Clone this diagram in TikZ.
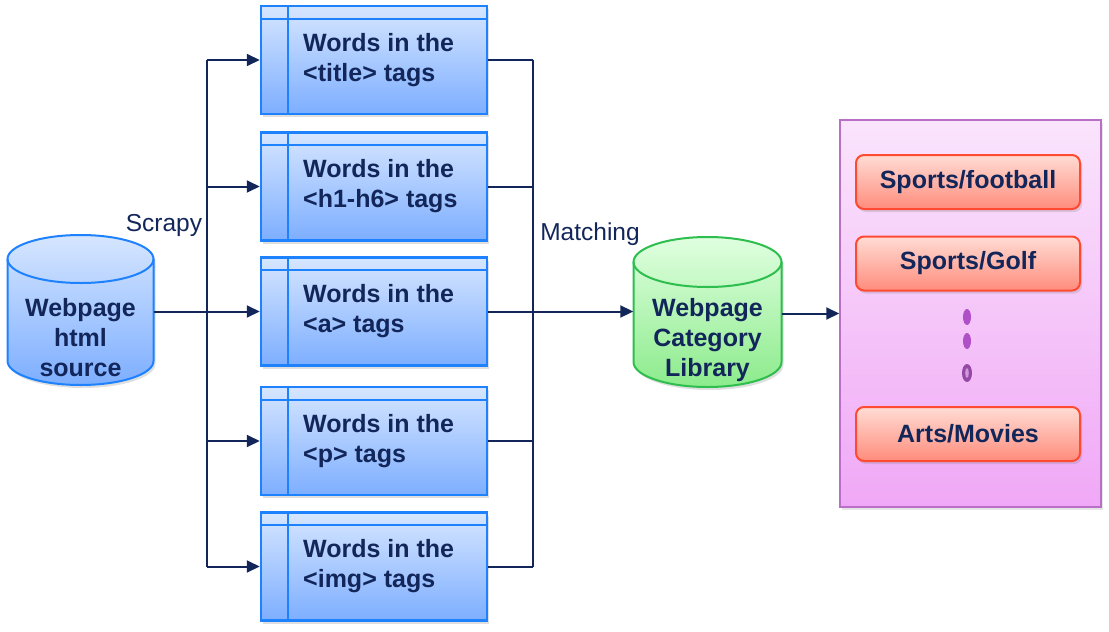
\documentclass[tikz,border=0pt]{standalone}
\usepackage{fontspec}
\setmainfont{Liberation Sans}
\usetikzlibrary{arrows.meta,shadows}
\definecolor{navy}{HTML}{12265A}
\definecolor{bborder}{HTML}{1E82FF}
\definecolor{btop}{HTML}{D6E6FF}
\definecolor{bbot}{HTML}{7DAEFF}
\definecolor{gborder}{HTML}{2DBE4E}
\definecolor{gtop}{HTML}{E0FFE0}
\definecolor{gbot}{HTML}{8CEB8C}
\definecolor{pborder}{HTML}{B96FC8}
\definecolor{ptop}{HTML}{FAE4FC}
\definecolor{pbot}{HTML}{F0A8F6}
\definecolor{rborder}{HTML}{FF4A32}
\definecolor{rtop}{HTML}{FFDCD4}
\definecolor{rbot}{HTML}{FF8C7C}
\definecolor{dotc}{HTML}{B050C8}
\definecolor{dotd}{HTML}{944AA4}
\newcommand{\mycyl}[8]{%
  \shade[top color=#6,bottom color=#7,drop shadow={shadow xshift=2pt,shadow yshift=-3pt,opacity=0.25}]
    (#1-#4,-#2) -- (#1-#4,-#3) arc[start angle=180,end angle=360,x radius=#4,y radius=#5]
    -- (#1+#4,-#2) arc[start angle=0,end angle=180,x radius=#4,y radius=#5] -- cycle;
  \draw[#8,line width=2pt]
    (#1-#4,-#2) -- (#1-#4,-#3) arc[start angle=180,end angle=360,x radius=#4,y radius=#5]
    -- (#1+#4,-#2);
  \draw[#8,line width=2pt] (#1,-#2) ellipse[x radius=#4,y radius=#5];
}
\tikzset{
  txt/.style={font=\fontsize{25}{30}\selectfont\bfseries,text=navy,inner sep=0pt},
  lbl/.style={font=\fontsize{24.5}{30}\selectfont,text=navy,inner sep=0pt},
  tagbox/.style={draw=bborder,line width=2.5pt,top color=btop,bottom color=bbot,
    minimum width=226pt,minimum height=108pt,inner sep=0pt,
    drop shadow={shadow xshift=2pt,shadow yshift=-3pt,opacity=0.25}},
  catbox/.style={draw=rborder,line width=2pt,top color=rtop,bottom color=rbot,rounded corners=8pt,
    minimum width=224pt,minimum height=54pt,inner sep=0pt,
    font=\fontsize{25}{30}\selectfont\bfseries,text=navy,
    drop shadow={shadow xshift=2pt,shadow yshift=-3pt,opacity=0.25}},
  conn/.style={draw=navy,line width=2pt},
  arr/.style={conn,-{Triangle[length=13pt,width=12pt]}},
  inner/.style={draw=bborder,line width=2pt},
}
\begin{document}
\begin{tikzpicture}[x=1pt,y=1pt]
\useasboundingbox (0,0) rectangle (1109,-632);

% source cylinder
\mycyl{80.5}{259}{361}{73}{24}{btop}{bbot}{bborder}
\node[txt,align=center,minimum width=146pt] (src) at (80.5,-337.5) {Webpage\\html\\source};

% tag boxes
\foreach \n/\yc/\tg in {1/60/{<title>},2/186.5/{<h1-h6>},3/311.5/{<a>},4/441/{<p>},5/566.5/{<img>}}{
  \node[tagbox] (b\n) at (374,-\yc) {};
  \draw[inner] ([xshift=28pt]b\n.north west) -- ([xshift=28pt]b\n.south west);
  \draw[inner] ([yshift=-14pt]b\n.north west) -- ([yshift=-14pt]b\n.north east);
  \node[txt,align=left,anchor=west] (t\n) at (303,-\yc) {Words in the\\\tg{} tags};
}

% library cylinder
\mycyl{707.5}{262}{362}{74}{25}{gtop}{gbot}{gborder}
\node[txt,align=center,minimum width=148pt] (lib) at (707.5,-340) {Webpage\\Category\\Library};

% panel
\node[draw=pborder,line width=1.5pt,top color=ptop,bottom color=pbot,minimum width=261pt,minimum height=387pt,inner sep=0pt,
  drop shadow={shadow xshift=2pt,shadow yshift=-3pt,opacity=0.2}] (panel) at (970.5,-313.5) {};
\node[catbox] (c1) at (968,-182) {Sports/football};
\node[catbox] (c2) at (968,-263.5) {Sports/Golf};
\node[catbox] (c3) at (968,-434) {Arts/Movies};
\fill[dotc] (967,-317) ellipse[x radius=4,y radius=8];
\fill[dotc] (967,-341) ellipse[x radius=4,y radius=8];
\fill[dotd] (967,-373) ellipse[x radius=5,y radius=9];
\fill[dotc!60] (967,-373) ellipse[x radius=1.8,y radius=5];

% labels
\node[lbl] (scrapy) at (164,-225) {Scrapy};
\node[lbl] (matching) at (590,-234) {Matching};

% connectors left
\coordinate (ltop) at (207,-60);
\coordinate (lbot) at (207,-566.5);
\draw[conn] (ltop) -- (lbot);
\foreach \n in {1,2,4,5}{
  \draw[arr] (ltop |- b\n.west) -- (b\n.west);
}
\draw[arr] (src.east |- b3.west) -- (b3.west);

% connectors right
\coordinate (rtop) at (533,-60);
\coordinate (rbot) at (533,-566.5);
\draw[conn] (rtop) -- (rbot);
\foreach \n in {1,2,4,5}{
  \draw[conn] (b\n.east) -- (rtop |- b\n.east);
}
\draw[arr] (b3.east) -- (lib.west |- b3.east);
\draw[arr] (lib.east |- panel.west) -- (panel.west);
\end{tikzpicture}
\end{document}
